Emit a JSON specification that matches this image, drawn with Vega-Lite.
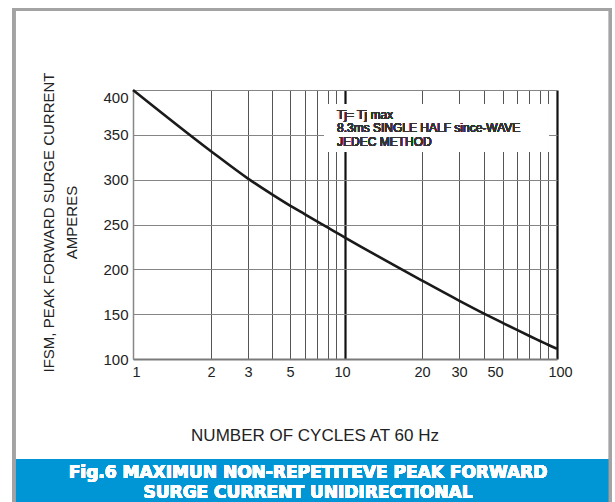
{
  "$schema": "https://vega.github.io/schema/vega-lite/v6.json",
  "width": 424,
  "height": 269,
  "autosize": {"type": "none"},
  "padding": {"left": 133, "top": 90, "right": 58, "bottom": 143},
  "background": "white",
  "config": {
    "view": {"stroke": null},
    "font": "Liberation Sans"
  },
  "data": {
    "values": [
      {"cycles": 1, "ifsm": 400},
      {"cycles": 2, "ifsm": 331.7},
      {"cycles": 3, "ifsm": 301.2},
      {"cycles": 4, "ifsm": 283.6},
      {"cycles": 5, "ifsm": 271.1},
      {"cycles": 6, "ifsm": 261.4},
      {"cycles": 7, "ifsm": 253.6},
      {"cycles": 8, "ifsm": 246.4},
      {"cycles": 9, "ifsm": 241.3},
      {"cycles": 10, "ifsm": 235.5},
      {"cycles": 20, "ifsm": 187.5},
      {"cycles": 30, "ifsm": 165.2},
      {"cycles": 40, "ifsm": 150.7},
      {"cycles": 50, "ifsm": 140.1},
      {"cycles": 60, "ifsm": 132.4},
      {"cycles": 70, "ifsm": 125.9},
      {"cycles": 80, "ifsm": 120.1},
      {"cycles": 90, "ifsm": 115.9},
      {"cycles": 100, "ifsm": 111.4}
    ]
  },
  "layer": [
    {
      "mark": {"type": "line", "color": "#1a1a1a", "strokeWidth": 2.6, "interpolate": "monotone", "clip": false},
      "encoding": {
        "x": {
          "field": "cycles",
          "type": "quantitative",
          "scale": {
            "type": "linear",
            "domain": [1, 2, 3, 4, 5, 6, 7, 8, 9, 10, 20, 30, 40, 50, 60, 70, 80, 90, 100],
            "range": [0, 78, 115, 139, 157, 172, 184, 195, 203, 212, 289, 326, 351, 370, 384, 396, 407, 415, 424],
            "nice": false,
            "zero": false
          },
          "axis": {
            "values": [1, 2, 3, 4, 5, 6, 7, 8, 9, 10, 20, 30, 40, 50, 60, 70, 80, 90, 100],
            "tickCount": 200,
            "labelExpr": "indexof([1,2,3,5,10,20,30,50,100], datum.value) >= 0 ? datum.label : ''",
            "format": "d",
            "ticks": false,
            "labelPadding": 6,
            "labelFont": "Liberation Sans",
            "labelFontSize": 14.5,
            "labelColor": "#222222",
            "labelOffset": {"condition": [{"test": "datum.value == 50", "value": -8}, {"test": "datum.value == 10", "value": -3}, {"test": "datum.value == 100", "value": 3}, {"test": "datum.value == 1", "value": 3}], "value": 0},
            "labelFlush": false,
            "labelOverlap": false,
            "domainColor": "#7a7a7a",
            "domainWidth": 2,
            "grid": true,
            "gridColor": {"condition": [{"test": "datum.value == 10 || datum.value == 100", "value": "#111111"}, {"test": "datum.value == 1", "value": "#888888"}], "value": "#555555"},
            "gridWidth": {"condition": {"test": "datum.value == 10 || datum.value == 100", "value": 2.2}, "value": 1},
            "gridOpacity": 1,
            "title": "NUMBER OF CYCLES AT 60 Hz",
            "titleFont": "Liberation Sans",
            "titleFontSize": 17,
            "titleFontWeight": "normal",
            "titleColor": "#222222",
            "titleX": 181.5,
            "titleY": 81,
            "titleAlign": "center",
            "titleBaseline": "alphabetic"
          }
        },
        "y": {
          "field": "ifsm",
          "type": "quantitative",
          "scale": {"domain": [100, 400], "nice": false, "zero": false},
          "axis": {
            "values": [100, 150, 200, 250, 300, 350, 400],
            "tickCount": 50,
            "ticks": false,
            "labelPadding": 5,
            "labelFont": "Liberation Sans",
            "labelFontSize": 15,
            "labelColor": "#222222",
            "labelBaseline": {"condition": {"test": "datum.value == 400", "value": "top"}, "value": "middle"},
            "domainColor": "#888888",
            "domainWidth": 1.5,
            "grid": true,
            "gridColor": "#858585",
            "gridWidth": 1.2,
            "gridOpacity": 1,
            "title": ["IFSM,  PEAK FORWARD SURGE CURRENT", "AMPERES"],
            "titleFont": "Liberation Sans",
            "titleFontSize": 15,
            "titleFontWeight": "normal",
            "titleColor": "#222222",
            "titleAngle": -90,
            "titleX": -80,
            "titleY": 132,
            "titleAlign": "center",
            "titleBaseline": "alphabetic",
            "titleLineHeight": 23.5
          }
        }
      }
    },
    {
      "mark": {"type": "rect", "color": "#0096d6"},
      "encoding": {
        "x": {"datum": -0.53, "type": "quantitative"},
        "x2": {"datum": 159.4},
        "y": {"datum": -11.5, "type": "quantitative"},
        "y2": {"datum": -90.7}
      }
    },
    {
      "mark": {"type": "rect", "filled": false, "stroke": "#a3a3a3", "strokeWidth": 3},
      "encoding": {
        "x": {"datum": -0.53, "type": "quantitative"},
        "x2": {"datum": 159.4},
        "y": {"datum": 489.8, "type": "quantitative"},
        "y2": {"datum": -90.7}
      }
    },
    {
      "mark": {"type": "rect", "fill": "white", "stroke": null},
      "encoding": {
        "x": {"datum": 7.64, "type": "quantitative"},
        "x2": {"datum": 90.5},
        "y": {"datum": 384.4, "type": "quantitative"},
        "y2": {"datum": 330.9}
      }
    },
    {
      "mark": {
        "type": "text",
        "text": ["Tj= Tj max", "8.3ms SINGLE HALF since-WAVE", "JEDEC METHOD"],
        "align": "left",
        "baseline": "alphabetic",
        "lineHeight": 13.5,
        "font": "Liberation Sans",
        "fontSize": 12,
        "fontWeight": 400,
        "fill": "#333333",
        "stroke": null
      },
      "encoding": {
        "x": {"datum": 9.11, "type": "quantitative"},
        "y": {"datum": 367.7, "type": "quantitative"}
      }
    },
    {
      "mark": {
        "type": "text",
        "text": ["Fig.6 MAXIMUN NON-REPETITEVE PEAK FORWARD", "SURGE CURRENT UNIDIRECTIONAL"],
        "align": "center",
        "baseline": "alphabetic",
        "lineHeight": 20,
        "font": "DejaVu Sans",
        "fontSize": 17,
        "fontWeight": "bold",
        "fill": "white",
        "stroke": null
      },
      "encoding": {
        "x": {"datum": 6.25, "type": "quantitative"},
        "y": {"datum": -32.7, "type": "quantitative"}
      }
    }
  ]
}
